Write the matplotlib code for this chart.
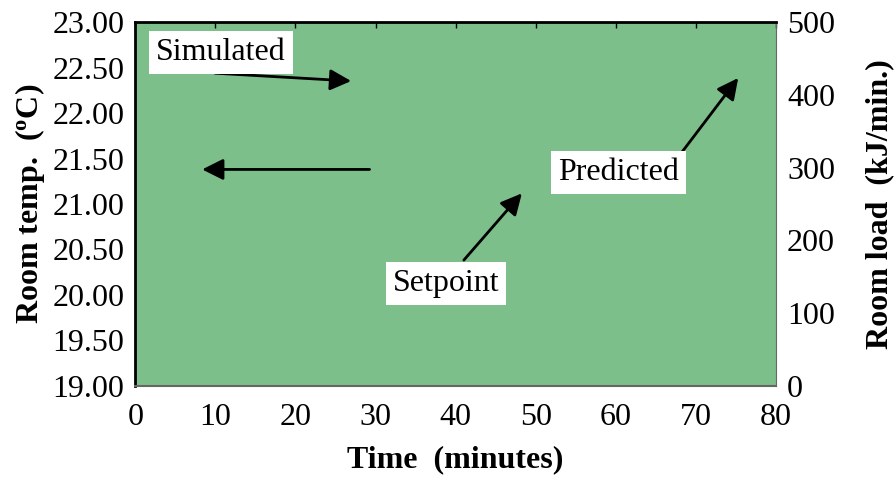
import matplotlib
matplotlib.use('Agg')
from matplotlib import pyplot as plt

# ejes
x_ticks = [0, 10, 20, 30, 40, 50, 60, 70, 80]
temp_ticks = [19.0, 19.5, 20.0, 20.5, 21.0, 21.5, 22.0, 22.5, 23.0]
load_ticks = [0, 100, 200, 300, 400, 500]

# anotaciones (texto, posicion texto, inicio flecha, punta flecha)
etiquetas = ['Simulated', 'Setpoint', 'Predicted']
pos_texto = [(10.7, 22.67), (38.8, 20.13), (60.3, 21.35)]
inicio_flecha = [(9.6, 22.44), (40.8, 20.36), (68.0, 21.54)]
punta_flecha = [(27.3, 22.35), (48.5, 21.14), (75.5, 22.41)]
# flecha suelta sin texto
flecha_sola = [(29.6, 21.38), (8.0, 21.38)]

plt.rcParams['font.family'] = ['Liberation Serif', 'DejaVu Serif']
plt.rcParams['font.size'] = 23

fig, ax = plt.subplots(figsize=(8.96, 4.8), dpi=100)
fig.subplots_adjust(left=0.151, right=0.866, top=0.954, bottom=0.196)
ax.set_facecolor('#7dbf8a')

ax.set_xlim(0, 80)
ax.set_ylim(19, 23)
ax.set_xticks(x_ticks)
ax.set_yticks(temp_ticks)
ax.set_yticklabels(['%.2f' % t for t in temp_ticks])
ax.tick_params(axis='both', length=0, pad=8)
ax.tick_params(axis='x', top=True, direction='in', length=4, width=1, pad=12)
ax.tick_params(axis='x', bottom=False)

ax.spines['left'].set_linewidth(2)
ax.spines['top'].set_linewidth(2)
ax.spines['bottom'].set_color('#666666')
ax.spines['bottom'].set_linewidth(1.5)
ax.spines['right'].set_color('#666666')

ax.set_xlabel('Time  (minutes)', fontweight='bold', labelpad=10)
ax.set_ylabel('Room temp.  ($\\mathregular{^o}$C)', fontweight='bold', labelpad=4)

ax2 = ax.twinx()
ax2.set_ylim(0, 500)
ax2.set_yticks(load_ticks)
ax2.tick_params(axis='y', length=0, pad=8)
ax2.set_ylabel('Room load  (kJ/min.)', fontweight='bold', labelpad=22)
for s in ax2.spines.values():
    s.set_visible(False)

flecha = dict(arrowstyle='-|>', mutation_scale=32, lw=2, color='black')
for i in range(len(etiquetas)):
    ax.annotate('', xy=punta_flecha[i], xytext=inicio_flecha[i], arrowprops=flecha)
    ax.text(pos_texto[i][0], pos_texto[i][1], etiquetas[i], ha='center', va='center',
            bbox=dict(facecolor='white', edgecolor='none', pad=5))
ax.annotate('', xy=flecha_sola[1], xytext=flecha_sola[0], arrowprops=flecha)

plt.savefig('out.png')
